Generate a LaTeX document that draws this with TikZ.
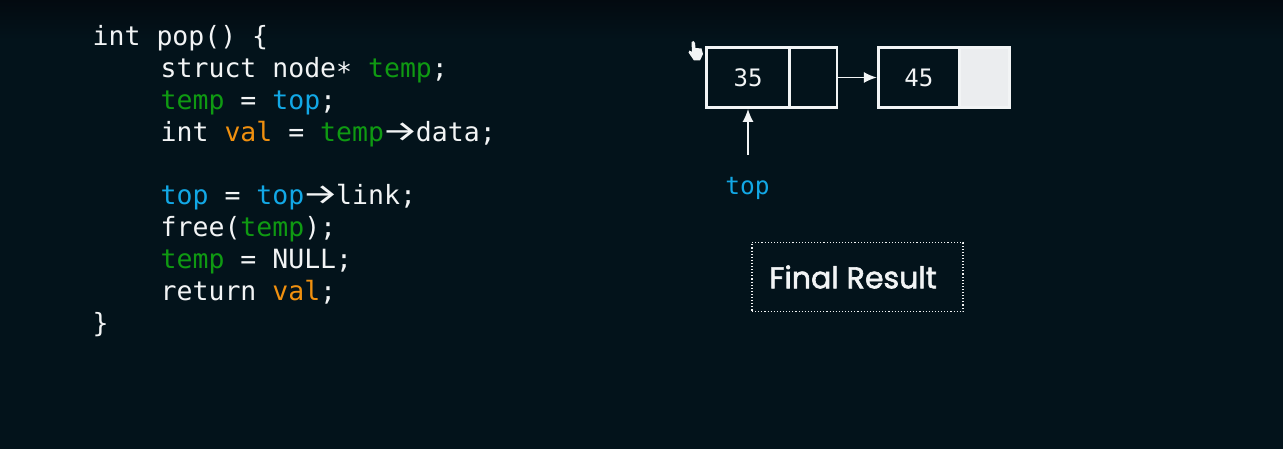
\documentclass[tikz,border=0pt]{standalone}
\usepackage{fontspec}
\usepackage{graphicx}
\setmonofont{DejaVu Sans Mono}
\setsansfont[FakeBold=2]{Poppins}
\newfontfamily\arrowfont{Fira Sans}
\definecolor{bgdark}{HTML}{03131B}
\definecolor{bgtop}{HTML}{030A10}
\definecolor{linewhite}{HTML}{F2F4F5}
\definecolor{slotgrey}{HTML}{EBEDEF}
\definecolor{vargreen}{HTML}{0F9A12}
\definecolor{varblue}{HTML}{12A8E6}
\definecolor{varorange}{HTML}{F0900F}
\newcommand{\vgreen}[1]{\textcolor{vargreen}{#1}}
\newcommand{\vblue}[1]{\textcolor{varblue}{#1}}
\newcommand{\vorange}[1]{\textcolor{varorange}{#1}}
\newcommand{\ptrto}{\makebox[31.9pt]{\scalebox{1.55}[1.1]{\arrowfont →}}}
\tikzset{
    codeline/.style={anchor=base west, inner sep=0, text=linewhite, font=\ttfamily\fontsize{26.5}{30}\selectfont},
    cellbox/.style={draw=linewhite, line width=2.8pt, minimum height=60pt, inner sep=0},
    cellnum/.style={text=linewhite, font=\ttfamily\fontsize{24}{28}\selectfont},
    ptrarrow/.style={draw=linewhite, line width=1.5pt, -{Latex[length=13pt,width=11pt]}},
}
\usetikzlibrary{arrows.meta}
\begin{document}
\begin{tikzpicture}[x=1pt, y=-1pt]
    \useasboundingbox (0, 0) rectangle (1283, 449);
    \shade[top color=bgtop, bottom color=bgdark] (0, 0) rectangle (1283, 40);
    \fill[bgdark] (0, 40) rectangle (1283, 449);

    % code
    \node[codeline] (line1) at (92.5, 46) {int pop() \{};
    \node[codeline] (line2) at (160.5, 78) {struct node\raisebox{-3.5pt}{*} \vgreen{temp};};
    \node[codeline] (line3) at (160.5, 110) {\vgreen{temp} = \vblue{top};};
    \node[codeline] (line4) at (160.5, 142) {int \vorange{val} = \vgreen{temp}\ptrto{}data;};
    \node[codeline] (line5) at (160.5, 205) {\vblue{top} = \vblue{top}\ptrto{}link;};
    \node[codeline] (line6) at (160.5, 237) {free(\vgreen{temp});};
    \node[codeline] (line7) at (160.5, 269) {\vgreen{temp} = NULL;};
    \node[codeline] (line8) at (160.5, 301) {return \vorange{val};};
    \node[codeline] (line9) at (92.5, 332) {\}};

    % list
    \fill[slotgrey] (959, 46) rectangle (1010.5, 109);
    \node[cellbox, cellnum, minimum width=83pt] (cell35) at (748, 77.5) {35};
    \node[cellbox, minimum width=47.5pt] (link35) at (813.25, 77.5) {};
    \node[cellbox, cellnum, minimum width=81pt] (cell45) at (918.75, 77.5) {45};
    \node[cellbox, minimum width=50pt] (link45) at (984.3, 77.5) {};
    \draw[ptrarrow] (link35) -- (cell45);

    \node[inner sep=0, font=\ttfamily\fontsize{24.5}{28}\selectfont, text=varblue] (toplabel) at (747.5, 188.5) {top};
    \coordinate (toptail) at (748, 155);
    \draw[ptrarrow] (toptail) -- (cell35);

    % final result
    \node[draw=linewhite, dotted, line width=1.1pt, minimum width=211pt, minimum height=69pt, inner sep=0, text=linewhite, font=\sffamily\fontsize{30}{32}\selectfont] (result) at (857.5, 277) {Final Result\hspace*{9pt}};

    % cursor
    \fill[linewhite] (691.5, 42) -- (693.5, 41) -- (695, 43) -- (695.5, 48) -- (701.5, 48.5) -- (703, 54) -- (700, 60.5) -- (694, 60.5) -- (688.5, 52.5) -- (689.5, 50.5) -- (692, 52) -- cycle;
\end{tikzpicture}
\end{document}
